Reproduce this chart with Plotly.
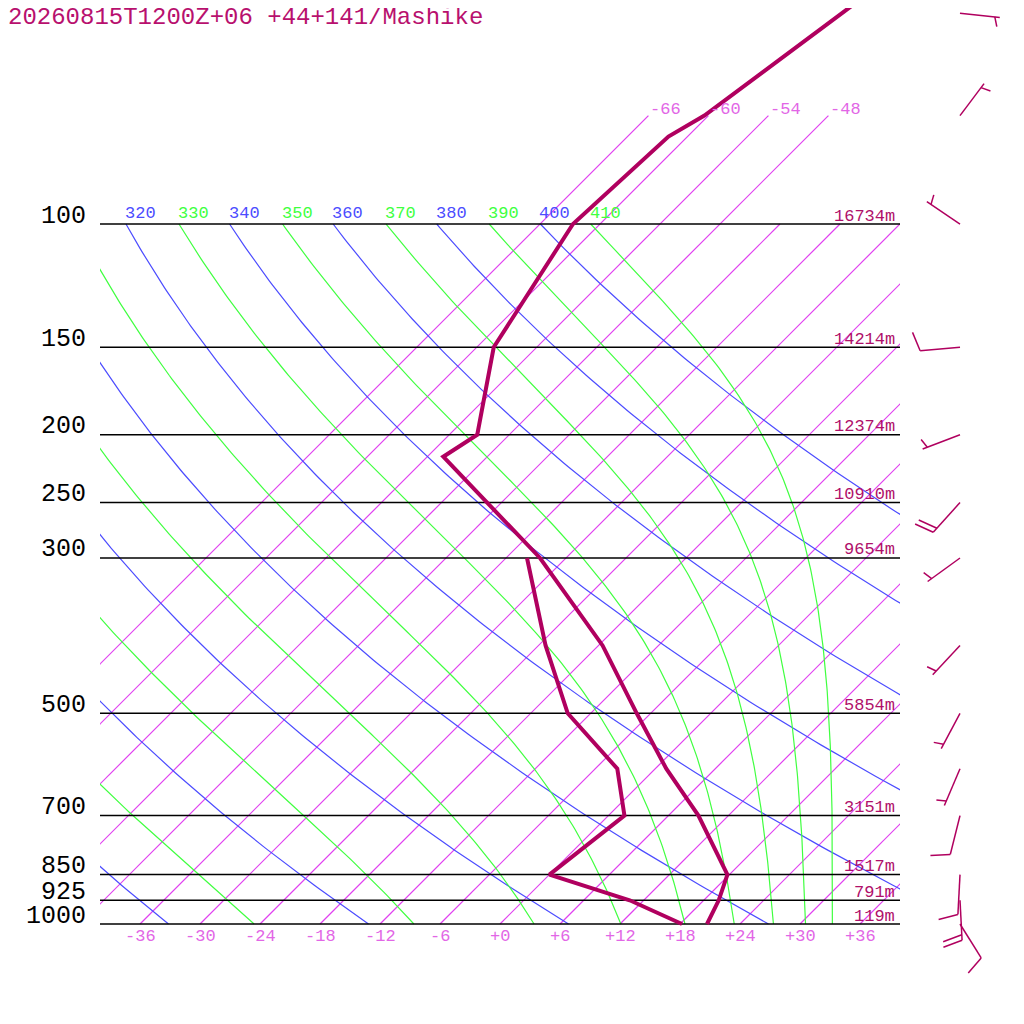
import numpy as np
import plotly.graph_objects as go

# --- sounding ---
levels = [1000, 925, 850, 700, 600, 500, 400, 300, 215, 200, 150, 100, 75, 70, 50, 40]
temp = [20.7, 19.5, 17.8, 9.0, 1.1, -7.4, -17.6, -32.6, -52.4, -51.2, -58.3, -62.7, -61.9, -60.4, -56.9, -54.5]
dew_levels = [1000, 925, 850, 700, 600, 500, 400, 300]
dewpt = [18.2, 10.6, 0.0, 1.6, -3.8, -14.3, -23.3, -33.9]

# heights of the standard levels
std_levels = [100, 150, 200, 250, 300, 500, 700, 850, 925, 1000]
heights = [16734, 14214, 12374, 10910, 9654, 5854, 3151, 1517, 791, 119]

# winds (direction deg, speed kt)
wind_p = [50, 70, 100, 150, 200, 250, 300, 400, 500, 600, 700, 850, 925, 1000]
wind_dir = [96, 37, 304, 265, 249, 222, 234, 223, 208, 203, 194, 183, 177, 148]
wind_kt = [5, 5, 5, 10, 5, 20, 5, 5, 5, 5, 10, 10, 20, 10]

# background grid
isotherms = list(range(-66, 37, 6))
temp_ticks = list(range(-36, 37, 6))
dry_theta = list(range(240, 401, 20))
moist_thetae = list(range(250, 411, 20))

title = "20260815T1200Z+06 +44+141/Mashike"

# page puts the figure 8px in from the corner, so the figure is 1016px
OFF = 8
W = 1016
SKEW = 30.4          # deg C per ln(p) unit
PX_LN = 304.0        # pixels per ln(p) unit
Y1000 = 924          # screen row of 1000 hPa
P_TOP = 1000 * np.exp(-(Y1000 - OFF) / PX_LN)
P_BOT = 1000 * np.exp((W + OFF - Y1000) / PX_LN)

PROF = "#B0005F"
ISO = "#E040F0"
ISO_TXT = "#E266E6"
BLUE = "#4C4CFF"
GREEN = "#40FF40"
FONT = "Liberation Mono"


def skx(t, p):
    return np.asarray(t) + SKEW * np.log(1000.0 / np.asarray(p))


def thetae(tk, p):
    tc = tk - 273.15
    es = 6.112 * np.exp(17.67 * tc / (tc + 243.5))
    r = 622 * es / np.maximum(p - es, 1e-3)
    return tk * (1000 / p) ** (0.2854 * (1 - 0.00028 * r)) * np.exp((3.376 / tk - 0.00254) * r * (1 + 0.00081 * r))


def moist_t(te, p):
    lo = np.full_like(p, 150.0)
    hi = np.full_like(p, 320.0)
    for _ in range(60):
        mid = (lo + hi) / 2
        f = thetae(mid, p) > te
        hi = np.where(f, mid, hi)
        lo = np.where(f, lo, mid)
    return (lo + hi) / 2 - 273.15


def joined(lines):
    xs, ys = [], []
    for x, y in lines:
        xs += [float(v) for v in x] + [None]
        ys += [float(v) for v in y] + [None]
    return xs, ys


def fx(px):
    # screen pixel column -> paper fraction
    return (px - OFF) / W


fig = go.Figure()
pgrid = np.geomspace(1000, 100, 200)

# isotherms, one trace each
for t in isotherms:
    ptop = 70 if t <= -48 else 100
    fig.add_trace(go.Scatter(x=skx([t, t], [1000, ptop]).tolist(), y=[1000, ptop], mode="lines",
                             line=dict(color=ISO, width=1.2), hoverinfo="skip"))

# dry adiabats
dry_lines = []
for th in dry_theta:
    t = th * (pgrid / 1000) ** 0.2857 - 273.15
    dry_lines.append((skx(t, pgrid), pgrid))
x, y = joined(dry_lines)
fig.add_trace(go.Scatter(x=x, y=y, mode="lines", line=dict(color=BLUE, width=1.2), hoverinfo="skip"))

# moist adiabats
moist_lines = []
moist_top = []
for te in moist_thetae:
    t = moist_t(te, pgrid)
    moist_lines.append((skx(t, pgrid), pgrid))
    moist_top.append(float(skx(t[-1], 100)))
x, y = joined(moist_lines)
fig.add_trace(go.Scatter(x=x, y=y, mode="lines", line=dict(color=GREEN, width=1.2), hoverinfo="skip"))

# pressure lines
x, y = joined([([-40, 40], [p, p]) for p in std_levels])
fig.add_trace(go.Scatter(x=x, y=y, mode="lines", line=dict(color="black", width=1.5), hoverinfo="skip"))

# profiles
fig.add_trace(go.Scatter(x=skx(dewpt, dew_levels), y=dew_levels, mode="lines",
                         line=dict(color=PROF, width=4)))
fig.add_trace(go.Scatter(x=skx(temp, levels), y=levels, mode="lines",
                         line=dict(color=PROF, width=4)))


# wind barbs (drawn in screen pixel units on a side axis)
def px_to_p(ypx):
    return 1000 * np.exp((ypx - Y1000) / PX_LN)


barb_lines = []
for p, d, s in zip(wind_p, wind_dir, wind_kt):
    by = Y1000 - PX_LN * np.log(1000 / p)
    bx = 960.0
    a = np.radians(d)
    u = np.array([np.sin(a), -np.cos(a)])
    n = np.array([-u[1], u[0]])
    tip = np.array([bx, by]) + 40 * u
    barb_lines.append(([bx, tip[0]], [px_to_p(by), px_to_p(tip[1])]))
    pos = tip.copy()
    nfull = s // 10
    half = (s % 10) >= 5
    for i in range(nfull):
        end = pos + 19 * n + 6 * u
        barb_lines.append(([pos[0], end[0]], [px_to_p(pos[1]), px_to_p(end[1])]))
        pos = pos - 5.5 * u
    if half:
        if nfull == 0:
            pos = tip - 5 * u
        end = pos + 9.5 * n + 3 * u
        barb_lines.append(([pos[0], end[0]], [px_to_p(pos[1]), px_to_p(end[1])]))
x, y = joined(barb_lines)
fig.add_trace(go.Scatter(x=x, y=y, mode="lines", xaxis="x2", yaxis="y",
                         line=dict(color=PROF, width=1.5), hoverinfo="skip"))

ann = []
# title
ann.append(dict(text=title, xref="paper", yref="paper", x=fx(6), y=1 - (18 - OFF) / W,
                xanchor="left", yanchor="middle", showarrow=False,
                font=dict(family=FONT, size=24, color="#B8106E")))
# pressure labels
for p in std_levels:
    ann.append(dict(text=str(p), xref="paper", yref="y", x=fx(88), y=np.log10(p),
                    xanchor="right", yanchor="middle", yshift=8, showarrow=False,
                    font=dict(family=FONT, size=25, color="black")))
# height labels
for p, h in zip(std_levels, heights):
    ann.append(dict(text=f"{h}m", xref="x", yref="y", x=40, y=np.log10(p),
                    xanchor="right", yanchor="middle", xshift=-3, yshift=8, showarrow=False,
                    font=dict(family=FONT, size=17, color="#B0106A")))
# temperature labels at the bottom
for t in temp_ticks:
    ann.append(dict(text=f"{t:+d}", xref="x", yref="y", x=t, y=np.log10(1000),
                    xanchor="center", yanchor="middle", yshift=-12, showarrow=False,
                    font=dict(family=FONT, size=17, color=ISO_TXT)))
# isotherm labels above 100 hPa
for t in isotherms:
    if t <= -48:
        ann.append(dict(text=str(t), xref="x", yref="y", x=float(skx(t, 70)), y=np.log10(70),
                        xanchor="left", yanchor="middle", yshift=6, showarrow=False,
                        font=dict(family=FONT, size=17, color=ISO_TXT)))
# adiabat labels along 100 hPa
for th in dry_theta:
    xv = float(skx(th * 0.1 ** 0.2857 - 273.15, 100))
    if xv >= -40:
        ann.append(dict(text=str(th), xref="x", yref="y", x=xv, y=2,
                        xanchor="left", yanchor="middle", xshift=-3, yshift=11, showarrow=False,
                        font=dict(family=FONT, size=17, color=BLUE)))
for te, xv in zip(moist_thetae, moist_top):
    if xv >= -40:
        ann.append(dict(text=str(te), xref="x", yref="y", x=xv, y=2,
                        xanchor="left", yanchor="middle", xshift=-3, yshift=11, showarrow=False,
                        font=dict(family=FONT, size=17, color=GREEN)))

fig.update_layout(
    width=W, height=W,
    margin=dict(l=0, r=0, t=0, b=0),
    paper_bgcolor="white", plot_bgcolor="white",
    showlegend=False,
    xaxis=dict(domain=[fx(100), fx(900)], range=[-40, 40], visible=False),
    xaxis2=dict(domain=[fx(900), 1], range=[900, W + OFF], anchor="y", visible=False),
    yaxis=dict(domain=[0, 1], type="log", range=[np.log10(P_BOT), np.log10(P_TOP)], visible=False),
    annotations=ann,
)

fig.write_html("out.html")
